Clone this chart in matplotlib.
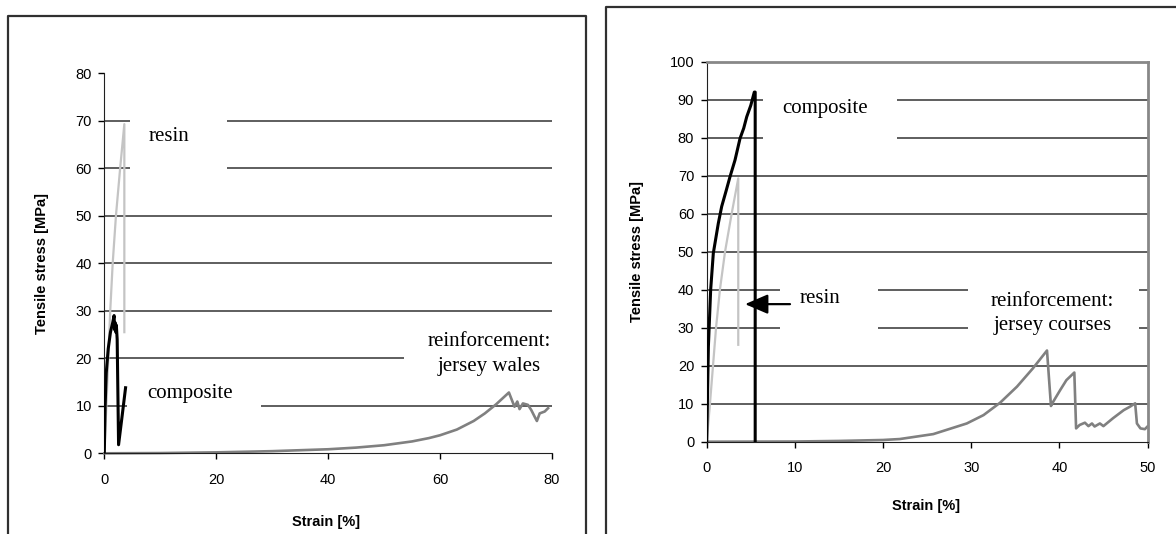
import matplotlib
matplotlib.use("Agg")
import matplotlib.pyplot as plt
from matplotlib.lines import Line2D
from matplotlib.patches import Rectangle

# ---- data ----
# resin (same specimen in both panels)
resin_strain = [0, 0.37, 1.06, 1.5, 2.08, 2.83, 3.58, 3.58]
resin_stress = [0, 10, 30, 40, 50, 60, 69.3, 25.5]

# wales direction
comp_w_strain = [0, 0.15, 0.35, 0.7, 1.1, 1.5, 1.75, 1.85, 1.95, 2.05, 2.15, 2.3, 2.55, 3.2, 3.8]
comp_w_stress = [0, 10, 17, 22, 25.5, 27.5, 29, 26, 27.5, 25.5, 27, 24, 1.8, 8, 13.8]

reinf_w_strain = [0, 10, 20, 30, 40, 45, 50, 55, 58, 60, 63, 66, 68, 70, 72.3,
                  73.3, 73.8, 74.2, 74.8, 75.7, 76.3, 76.9, 77.3, 77.8, 78.7, 79.3]
reinf_w_stress = [0, 0.05, 0.2, 0.45, 0.85, 1.2, 1.7, 2.5, 3.2, 3.8, 5.0, 6.8, 8.4, 10.3, 12.8,
                  9.8, 10.9, 9.3, 10.5, 10.2, 9.1, 7.7, 6.8, 8.4, 8.8, 9.5]

# courses direction
comp_c_strain = [0, 0.19, 0.45, 0.75, 1.32, 1.7, 2.2, 2.64, 3.21, 3.5, 3.78, 4.2, 4.54, 5.0, 5.4, 5.5, 5.5]
comp_c_stress = [0, 25, 40, 49.6, 57.5, 61.9, 66, 69.7, 74.1, 77, 79.8, 82.5, 85.5, 88.5, 92, 92, 0]

reinf_c_strain = [0, 10, 15, 20, 21.9, 25.7, 29.5, 31.4, 33.3, 35.2, 37.0, 38.6, 39.05, 39.3, 40.1,
                  40.8, 41.7, 41.9, 42.3, 42.9, 43.3, 43.7, 44.0, 44.6, 45.0, 46.1, 47.3, 48.0,
                  48.6, 48.8, 49.2, 49.7, 50.0]
reinf_c_stress = [0, 0.05, 0.2, 0.45, 0.7, 2.0, 4.8, 7.0, 10.3, 14.5, 19.3, 24.0, 9.4, 10.5, 13.6,
                  16.2, 18.2, 3.5, 4.4, 5.0, 4.1, 4.8, 4.0, 4.8, 4.1, 6.2, 8.3, 9.2,
                  10.1, 4.8, 3.5, 3.3, 4.0]

W, H = 1176, 534
fig = plt.figure(figsize=(W / 100, H / 100), dpi=100)
fig.patch.set_facecolor("white")

SANS = "Liberation Sans"
SERIF = "Liberation Serif"
GRID = "#333333"


def style_axes(ax, xmax, ymax, xstep, ystep):
    ax.set_xlim(0, xmax)
    ax.set_ylim(0, ymax)
    ax.set_xticks(range(0, xmax + 1, xstep))
    ax.set_yticks(range(0, ymax + 1, ystep))
    for y in range(ystep, ymax, ystep):
        ax.axhline(y, color=GRID, lw=1.1, zorder=0.5)
    ax.tick_params(direction="out", length=4, width=1, colors="black",
                   labelsize=10.5)
    ax.tick_params(axis="x", pad=10)
    ax.tick_params(axis="y", pad=5)
    for lab in ax.get_xticklabels() + ax.get_yticklabels():
        lab.set_fontfamily(SANS)
    ax.spines["left"].set_color("#202020")
    ax.spines["bottom"].set_color("#202020")


def white_box(ax, x0, x1, y0, y1):
    ax.add_patch(Rectangle((x0, y0), x1 - x0, y1 - y0, facecolor="white",
                           edgecolor="none", zorder=1, clip_on=False))


# ---------------- left panel: wales ----------------
ax1 = fig.add_axes([104.3 / W, 1 - 453.3 / H, 447.7 / W, 380 / H])
style_axes(ax1, 80, 80, 20, 10)
ax1.spines["top"].set_visible(False)
ax1.spines["right"].set_visible(False)

ax1.plot(reinf_w_strain, reinf_w_stress, color="#808080", lw=1.9, zorder=2, clip_on=False)
ax1.plot(resin_strain, resin_stress, color="#c4c4c4", lw=1.6, zorder=3)
ax1.plot(comp_w_strain, comp_w_stress, color="black", lw=2.2, zorder=4)

white_box(ax1, 4.6, 21.9, 57, 73)
white_box(ax1, 4.1, 28, 5, 17)
white_box(ax1, 53.6, 81, 16, 26)
ax1.text(8.0, 65.8, "resin", family=SERIF, fontsize=15, va="baseline", zorder=5)
ax1.text(7.6, 11.7, "composite", family=SERIF, fontsize=15, va="baseline", zorder=5)
ax1.text(68.8, 22.5, "reinforcement:", family=SERIF, fontsize=15, ha="center",
         va="baseline", zorder=5)
ax1.text(68.8, 17.3, "jersey wales", family=SERIF, fontsize=15, ha="center",
         va="baseline", zorder=5)

ax1.text((42 - 104.3) / 447.7, 0.5, "Tensile stress [MPa]", transform=ax1.transAxes,
         rotation=90, ha="center", va="center", family=SANS, fontsize=10.5,
         fontweight="bold")
ax1.text(0.495, (453.3 - 522) / 380, "Strain [%]", transform=ax1.transAxes,
         ha="center", va="center", family=SANS, fontsize=10.5, fontweight="bold")

# ---------------- right panel: courses ----------------
ax2 = fig.add_axes([706.7 / W, 1 - 441.7 / H, 440.8 / W, 380 / H])
style_axes(ax2, 50, 100, 10, 10)
for s in ("top", "right"):
    ax2.spines[s].set_color("#888888")
    ax2.spines[s].set_linewidth(2)

ax2.plot(reinf_c_strain, reinf_c_stress, color="#808080", lw=1.9, zorder=2)
ax2.plot(resin_strain, resin_stress, color="#c4c4c4", lw=1.6, zorder=3)
ax2.plot(comp_c_strain, comp_c_stress, color="black", lw=2.2, zorder=4)

white_box(ax2, 6.4, 21.6, 76, 94)
white_box(ax2, 8.3, 19.4, 26, 44)
white_box(ax2, 29.6, 49.0, 26, 44)
ax2.text(8.6, 86.4, "composite", family=SERIF, fontsize=15, va="baseline", zorder=5)
ax2.text(10.5, 36.4, "resin", family=SERIF, fontsize=15, va="baseline", zorder=5)
ax2.text(39.2, 35.8, "reinforcement:", family=SERIF, fontsize=15, ha="center",
         va="baseline", zorder=5)
ax2.text(39.2, 29.4, "jersey courses", family=SERIF, fontsize=15, ha="center",
         va="baseline", zorder=5)
ax2.annotate("", xy=(4.35, 36.2), xytext=(9.45, 36.2), zorder=6,
             arrowprops=dict(arrowstyle="-|>,head_length=1.4,head_width=0.6",
                             color="black", lw=1.6, shrinkA=0, shrinkB=0))

ax2.text((636.7 - 706.7) / 440.8, 0.5, "Tensile stress [MPa]", transform=ax2.transAxes,
         rotation=90, ha="center", va="center", family=SANS, fontsize=10.5,
         fontweight="bold")
ax2.text(0.497, (441.7 - 506.4) / 380, "Strain [%]", transform=ax2.transAxes,
         ha="center", va="center", family=SANS, fontsize=10.5, fontweight="bold")

# ---------------- outer frames ----------------
fig.add_artist(Line2D([8 / W, 8 / W, 585.7 / W, 585.7 / W],
                      [0, 1 - 15.7 / H, 1 - 15.7 / H, 0],
                      transform=fig.transFigure, color="#303030", lw=1.6))
fig.add_artist(Line2D([606 / W, 606 / W, 1],
                      [0, 1 - 7.3 / H, 1 - 7.3 / H],
                      transform=fig.transFigure, color="#303030", lw=1.6))

fig.savefig("out.png", dpi=100)
